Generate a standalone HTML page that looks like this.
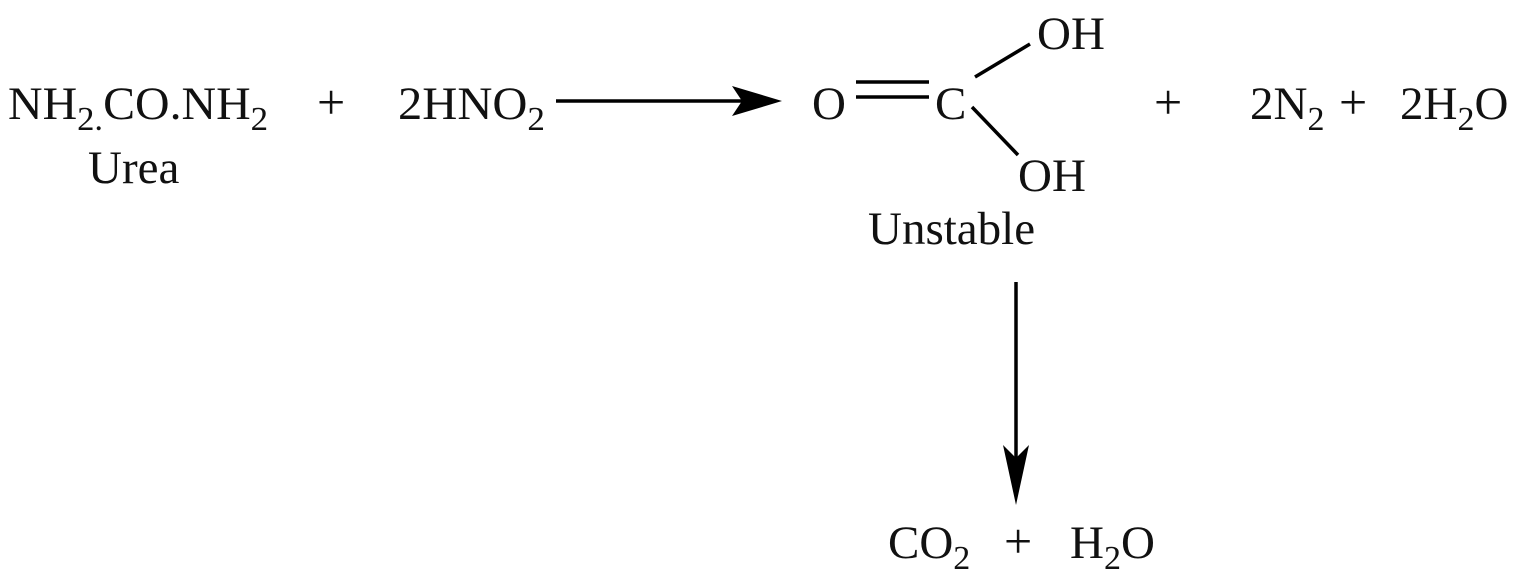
<!DOCTYPE html>
<html><head><meta charset="utf-8"><style>
html,body{margin:0;padding:0;background:#fff;}
svg{display:block;}
text{font-family:"Liberation Serif",serif;font-size:47px;fill:#111;}
.s{font-size:34px;}
.p{font-size:50px;}
</style></head><body>
<svg width="1536" height="580" viewBox="0 0 1536 580" xmlns="http://www.w3.org/2000/svg">
<text x="8" y="119" textLength="260" lengthAdjust="spacingAndGlyphs">NH<tspan class="s" dy="11">2.</tspan><tspan dy="-11">CO.NH</tspan><tspan class="s" dy="11">2</tspan></text>
<text x="88" y="183">Urea</text>
<text class="p" x="317" y="119">+</text>
<text x="398" y="119" textLength="147" lengthAdjust="spacingAndGlyphs">2HNO<tspan class="s" dy="11">2</tspan></text>
<line x1="556" y1="101" x2="745" y2="101" stroke="#000" stroke-width="3.5"/>
<polygon points="732,86 782,101 732,116 742,101" fill="#000"/>
<text x="812" y="119">O</text>
<line x1="856" y1="82" x2="929" y2="82" stroke="#000" stroke-width="3.5"/>
<line x1="856" y1="97" x2="929" y2="97" stroke="#000" stroke-width="3.5"/>
<text x="935" y="119">C</text>
<line x1="975" y1="77" x2="1030" y2="44" stroke="#000" stroke-width="3.5"/>
<text x="1037" y="49">OH</text>
<line x1="972" y1="107" x2="1018" y2="155" stroke="#000" stroke-width="3.5"/>
<text x="1018" y="191">OH</text>
<text x="868" y="244">Unstable</text>
<text class="p" x="1154" y="119">+</text>
<text x="1250" y="119">2N<tspan class="s" dy="11">2</tspan></text>
<text class="p" x="1339" y="119">+</text>
<text x="1400" y="119">2H<tspan class="s" dy="11">2</tspan><tspan dy="-11">O</tspan></text>
<line x1="1016" y1="282" x2="1016" y2="470" stroke="#000" stroke-width="3.5"/>
<polygon points="1003,445 1016,505 1029,445 1016,458" fill="#000"/>
<text x="888" y="558">CO<tspan class="s" dy="11">2</tspan></text>
<text class="p" x="1004" y="558">+</text>
<text x="1070" y="558">H<tspan class="s" dy="11">2</tspan><tspan dy="-11">O</tspan></text>
</svg>
</body></html>
